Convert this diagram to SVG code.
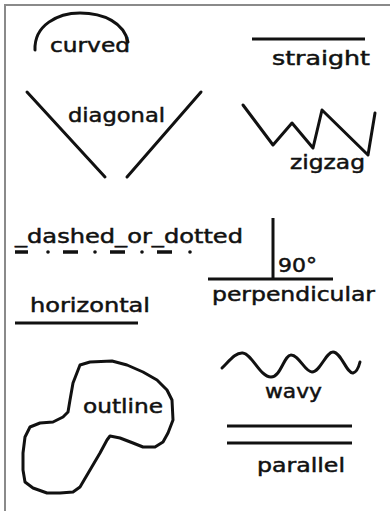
<svg xmlns="http://www.w3.org/2000/svg" width="390" height="511" viewBox="0 0 390 511">
<style>
.ln{fill:none;stroke:#111;stroke-width:3;stroke-linecap:round;stroke-linejoin:round}
.sq{fill:none;stroke:#111;stroke-width:3;stroke-linecap:butt}
.dd{fill:none;stroke:#111;stroke-width:3.5;stroke-linecap:butt}
.t{font-family:"DejaVu Sans","Liberation Sans",sans-serif;font-size:20px;fill:#111;stroke:#111;stroke-width:0.5}
</style>
<rect x="0" y="0" width="390" height="511" fill="#fff"/>
<g id="border"><path d="M5,511 V5 H390" fill="none" stroke="#8a8a8a" stroke-width="2"/></g>
<g id="connectors">
<path id="curved-line" class="ln" d="M35,50 C34,25 58,13 80,13 C104,13 124,23 128,42"/>
<line id="straight-line" class="sq" x1="252" y1="39" x2="365" y2="39"/>
<line class="ln" x1="27" y1="92" x2="105" y2="177"/>
<line class="ln" x1="127" y1="177" x2="201" y2="92"/>
<polyline id="zigzag-line" class="ln" points="243,105 273,145 292,123 313,148 322,110 368,155 375,113"/>
<g id="dashdot">
<line class="dd" x1="15" y1="252" x2="28" y2="252"/>
<line class="dd" x1="63" y1="252" x2="78" y2="252"/>
<line class="dd" x1="110" y1="252" x2="125" y2="252"/>
<line class="dd" x1="157" y1="252" x2="172" y2="252"/>
<circle cx="48" cy="252" r="1.8" fill="#111"/>
<circle cx="95" cy="252" r="1.8" fill="#111"/>
<circle cx="142" cy="252" r="1.8" fill="#111"/>
<circle cx="190" cy="252" r="1.8" fill="#111"/>
</g>
<line id="horizontal-line" class="sq" x1="15" y1="323" x2="138" y2="323"/>
<line class="sq" x1="273" y1="218" x2="273" y2="279"/>
<line class="sq" x1="208" y1="279" x2="333" y2="279"/>
<path id="outline-shape" class="ln" d="M80,365 L90,362 L112,361 L127,365 L143,372 L157,380 L167,390 L172,400 L173,420 L168,433 L163,442 L155,447 L143,447 L133,443 L120,438 L110,436 L107,440 L100,453 L90,470 L80,487 L73,492 L60,493 L47,493 L33,488 L25,482 L23,470 L23,453 L25,437 L30,427 L40,423 L53,422 L63,417 L68,412 L70,400 L73,383 Z"/>
<path id="wavy-line" class="ln" d="M222,368 C230,360 236,352 243,353 C252,354 260,377 271,377 C281,377 284,355 291,355 C299,355 305,372 312,372 C320,372 326,352 333,352 C341,352 347,374 353,373 C357,372 359,366 360,362"/>
<line class="sq" x1="227" y1="426" x2="352" y2="426"/>
<line class="sq" x1="227" y1="443" x2="352" y2="443"/>
</g>
<g id="labels">
<text id="curved" class="t" x="50" y="52" textLength="80" lengthAdjust="spacingAndGlyphs">curved</text>
<text id="straight" class="t" x="272" y="65" textLength="98" lengthAdjust="spacingAndGlyphs">straight</text>
<text id="diagonal" class="t" x="68" y="122" textLength="97" lengthAdjust="spacingAndGlyphs">diagonal</text>
<text id="zigzag" class="t" x="290" y="169" textLength="75" lengthAdjust="spacingAndGlyphs">zigzag</text>
<text id="dashed" class="t" x="15" y="243" textLength="228" lengthAdjust="spacingAndGlyphs">_dashed_or_dotted</text>
<text id="deg" class="t" x="278" y="272" textLength="39" lengthAdjust="spacingAndGlyphs">90°</text>
<text id="horizontal" class="t" x="30" y="312" textLength="120" lengthAdjust="spacingAndGlyphs">horizontal</text>
<text id="perpendicular" class="t" x="212" y="301" textLength="163" lengthAdjust="spacingAndGlyphs">perpendicular</text>
<text id="outline" class="t" x="83" y="413" textLength="80" lengthAdjust="spacingAndGlyphs">outline</text>
<text id="wavy" class="t" x="265" y="398" textLength="57" lengthAdjust="spacingAndGlyphs">wavy</text>
<text id="parallel" class="t" x="257" y="472" textLength="88" lengthAdjust="spacingAndGlyphs">parallel</text>
</g>
</svg>
